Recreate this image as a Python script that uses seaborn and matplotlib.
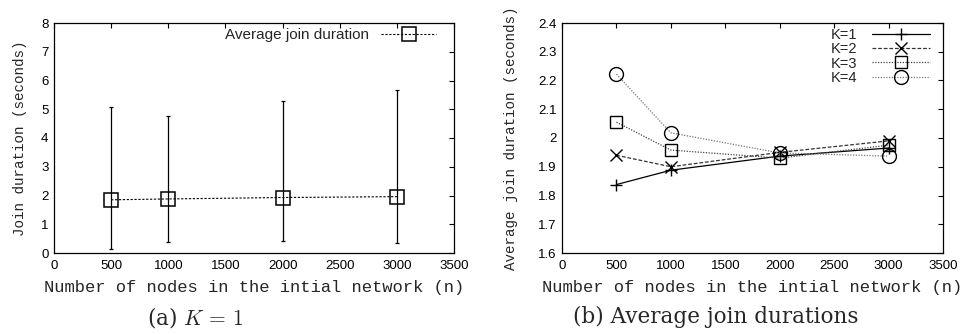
import numpy as np
import pandas as pd
import seaborn as sns
import matplotlib.pyplot as plt
from matplotlib.ticker import FormatStrFormatter, MultipleLocator

# ---------------------------
# Datos
# ---------------------------
nodes = [500, 1000, 2000, 3000]

# (a) K=1 with min/max error bars
avg_k1 = [1.85, 1.88, 1.93, 1.96]
err_low = [0.15, 0.37, 0.42, 0.35]
err_high = [5.08, 4.75, 5.30, 5.68]

# (b) average join duration per K
k_labels = ["K=1", "K=2", "K=3", "K=4"]
dur_k1 = [1.838, 1.888, 1.937, 1.965]
dur_k2 = [1.940, 1.900, 1.950, 1.990]
dur_k3 = [2.055, 1.958, 1.930, 1.975]
dur_k4 = [2.222, 2.018, 1.948, 1.937]

# ---------------------------
# Estilo
# ---------------------------
sns.set_style("white")
plt.rcParams["font.family"] = ["Liberation Sans", "DejaVu Sans"]
plt.rcParams["mathtext.fontset"] = "cm"

MONO = ["Liberation Mono", "DejaVu Sans Mono"]

fig = plt.figure(figsize=(9.66, 3.34), dpi=100)
ax1 = fig.add_axes([54 / 966, 1 - 253 / 334, 400 / 966, 230 / 334])
ax2 = fig.add_axes([562 / 966, 1 - 253 / 334, 381 / 966, 230 / 334])


def style_axis(ax):
    ax.set_xlim(0, 3500)
    ax.xaxis.set_major_locator(MultipleLocator(500))
    ax.tick_params(direction="in", top=True, right=True, length=3.5,
                   width=0.8, labelsize=9.5, colors="black")
    ax.tick_params(axis="x", pad=5)
    ax.tick_params(axis="y", pad=4)
    for sp in ax.spines.values():
        sp.set_linewidth(0.9)
        sp.set_color("black")
    ax.set_xlabel("Number of nodes in the intial network (n)",
                  family=MONO, fontsize=12.3, labelpad=6)


# ---------------------------
# (a) K = 1
# ---------------------------
yerr = [np.array(avg_k1) - np.array(err_low), np.array(err_high) - np.array(avg_k1)]
ax1.errorbar(nodes, avg_k1, yerr=yerr, fmt="none", ecolor="black",
             elinewidth=0.9, capsize=1.5, capthick=0.9)
sns.lineplot(x=nodes, y=avg_k1, ax=ax1, color="black", linestyle=(0, (2, 1.5)),
             linewidth=0.8, marker="s", markersize=10, markerfacecolor="none",
             markeredgecolor="black", markeredgewidth=1.1,
             label="Average join duration")
ax1.set_ylim(0, 8)
ax1.yaxis.set_major_locator(MultipleLocator(1))
style_axis(ax1)
ax1.set_ylabel("Join duration (seconds)", family=MONO, fontsize=10.3, labelpad=10)
ax1.legend(loc="upper right", bbox_to_anchor=(0.975, 1.01), frameon=False,
           markerfirst=False, fontsize=11, handlelength=3.6, borderaxespad=0.1,
           handletextpad=0.8)

# ---------------------------
# (b) Average join durations
# ---------------------------
series = [dur_k1, dur_k2, dur_k3, dur_k4]
markers = ["+", "x", "s", "o"]
lstyles = ["-", (0, (3, 1.5)), (0, (1, 1.2)), (0, (1, 1.2))]
lcolors = ["black", "#333333", "#444444", "#777777"]
msizes = [9, 9, 9, 10]
for vals, lab, mk, ls, lc, ms in zip(series, k_labels, markers, lstyles, lcolors, msizes):
    sns.lineplot(x=nodes, y=vals, ax=ax2, color=lc, linestyle=ls, linewidth=0.9,
                 marker=mk, markersize=ms, markerfacecolor="none",
                 markeredgecolor="black", markeredgewidth=1.0, label=lab)
ax2.set_ylim(1.6, 2.4)
ax2.yaxis.set_major_locator(MultipleLocator(0.1))
ax2.yaxis.set_major_formatter(FormatStrFormatter("%g"))
style_axis(ax2)
ax2.set_ylabel("Average join duration (seconds)", family=MONO, fontsize=10.3,
               labelpad=14)
ax2.legend(loc="upper right", bbox_to_anchor=(0.985, 1.01), frameon=False,
           markerfirst=False, fontsize=10.5, handlelength=4.0, borderaxespad=0.1,
           handletextpad=1.0, labelspacing=0.02)

# ---------------------------
# Captions
# ---------------------------
fig.text(195 / 966, 1 - 317 / 334, r"(a) $K\,=\,1$", family="DejaVu Serif",
         fontsize=15.5, ha="center", va="center")
fig.text(716 / 966, 1 - 317 / 334, "(b) Average join durations",
         family="DejaVu Serif", fontsize=15.5, ha="center", va="center")

plt.savefig("out.png", dpi=100)
plt.close()
